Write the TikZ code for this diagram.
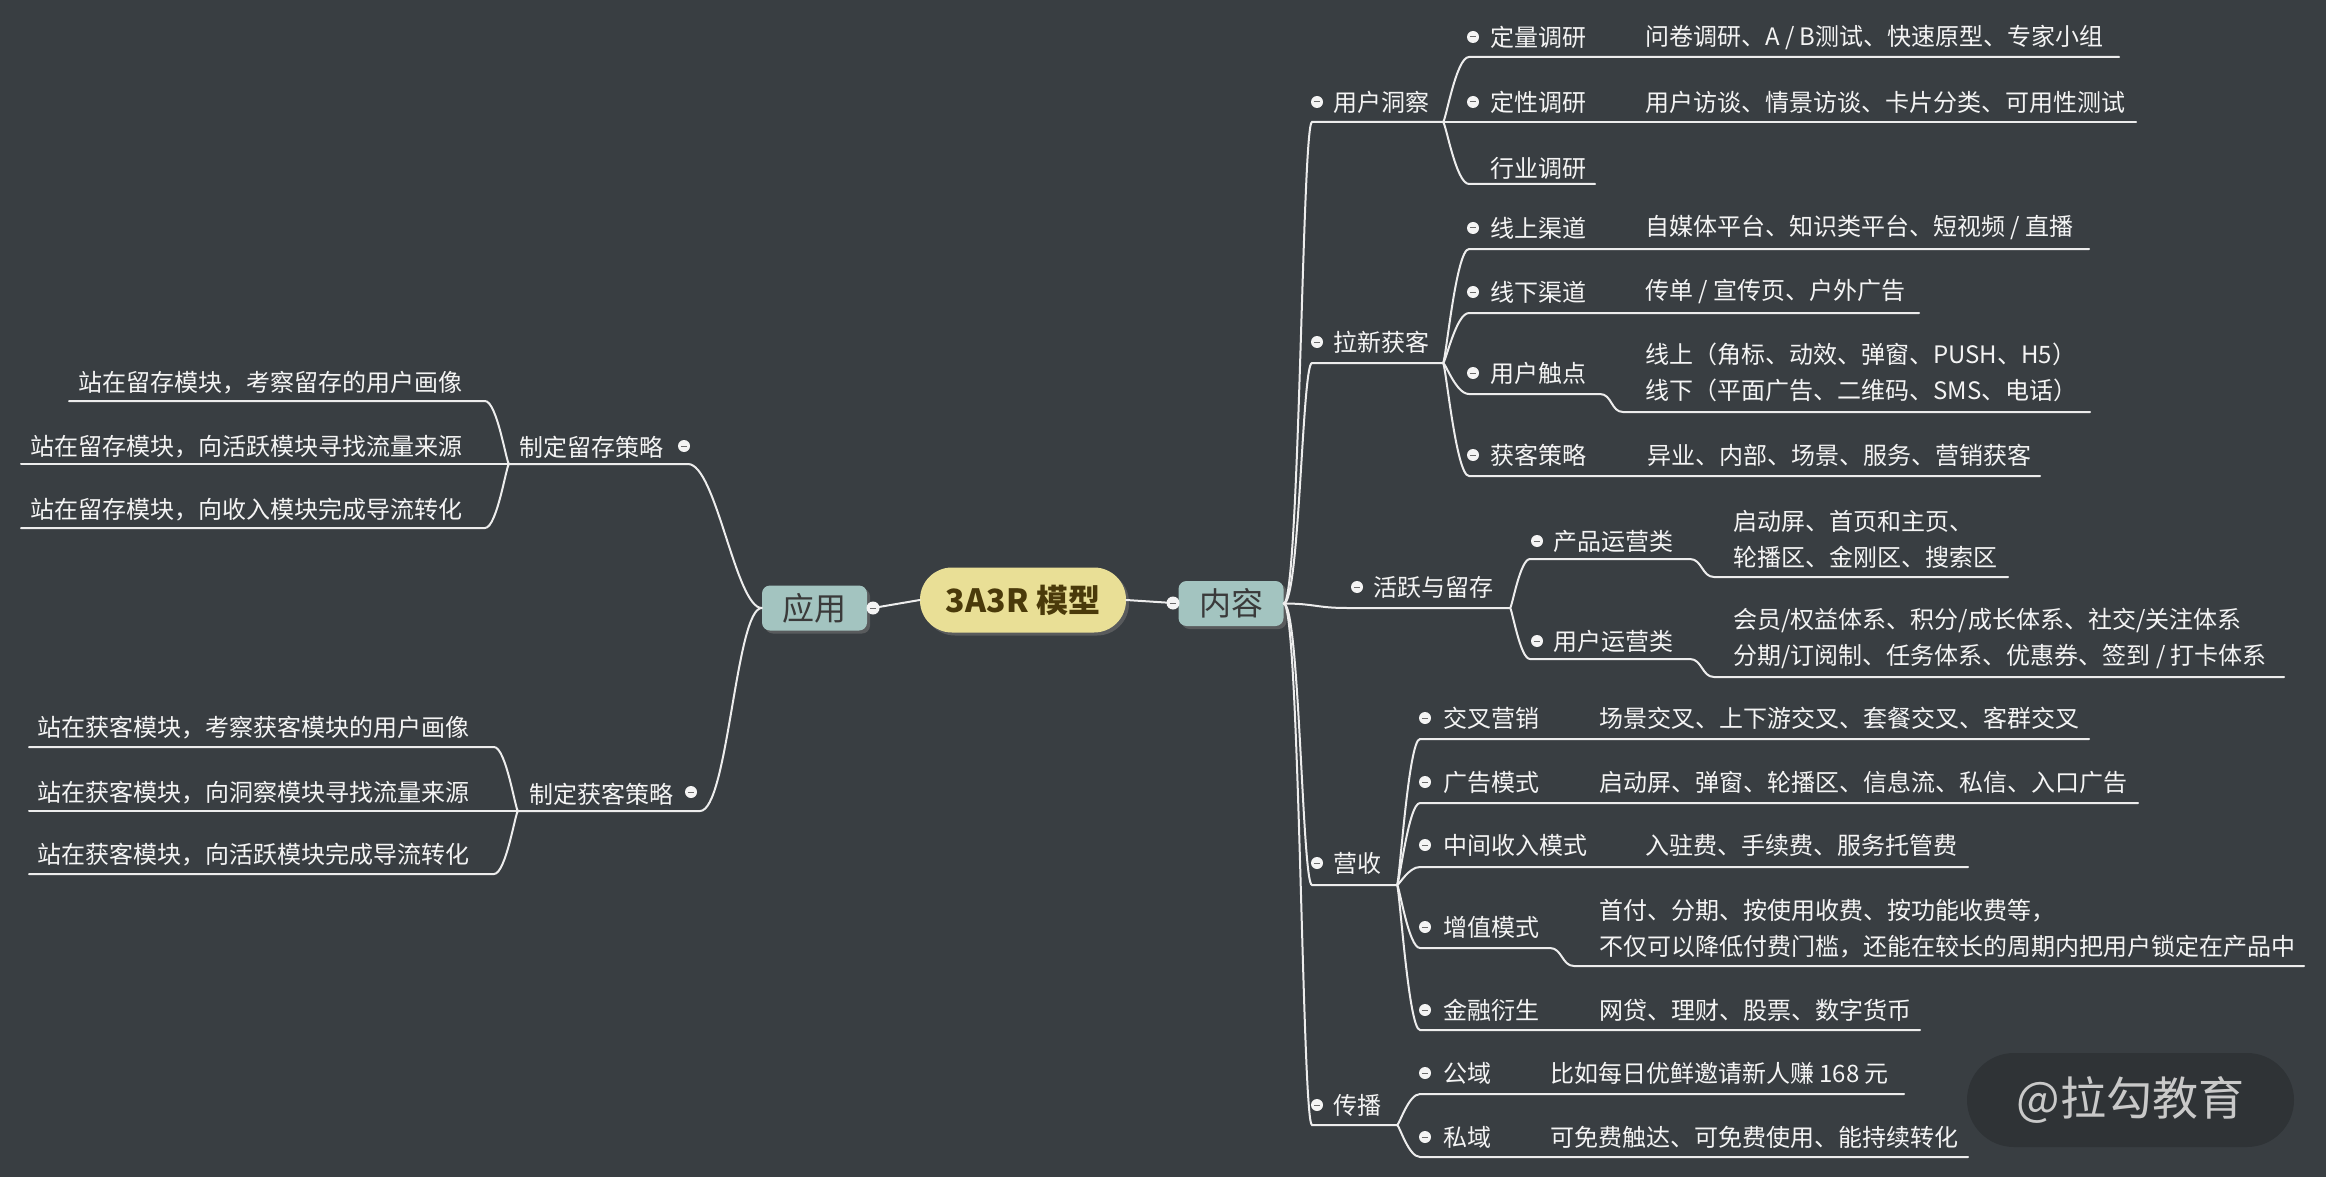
\documentclass[tikz,border=0pt]{standalone}
\usepackage{fontspec}
\setmainfont{Noto Sans CJK SC}
\usetikzlibrary{shadows}
\definecolor{bgc}{HTML}{393E42}
\definecolor{linec}{HTML}{EDEDED}
\definecolor{txtc}{HTML}{F4F4F4}
\definecolor{rootfill}{HTML}{E9DF96}
\definecolor{roottxt}{HTML}{4A3A0A}
\definecolor{boxfill}{HTML}{A3C4C0}
\definecolor{boxtxt}{HTML}{3A3A3A}
\definecolor{dotfill}{HTML}{F4F4F4}
\definecolor{dotminus}{HTML}{6A6A6A}
\definecolor{wmfill}{HTML}{2F3336}
\definecolor{wmtxt}{HTML}{C9C9C9}
\begin{document}
\begin{tikzpicture}[x=1pt,y=-1pt,
  lbl/.style={text=txtc, font=\fontsize{24}{36}\selectfont, inner sep=0pt, anchor=west, align=left},
  lblr/.style={lbl, anchor=east, align=right},
  ln/.style={draw=linec, line width=2pt, line cap=round},
  dotc/.style={circle, fill=dotfill, minimum size=12pt, inner sep=0pt,
    path picture={\draw[line width=1pt, draw=dotminus] ([xshift=-3.2pt]path picture bounding box.center) -- ([xshift=3.2pt]path picture bounding box.center);}},
  bigdot/.style={dotc, minimum size=13pt},
  rootbox/.style={fill=rootfill, text=roottxt, rounded corners=32pt, minimum width=206pt, minimum height=65pt, inner sep=0pt,
    font=\fontsize{32}{36}\selectfont\bfseries, drop shadow={shadow xshift=3pt, shadow yshift=-3pt, opacity=0.45}},
  mainbox/.style={fill=boxfill, text=boxtxt, rounded corners=8pt, minimum width=105pt, minimum height=45pt, inner sep=0pt,
    font=\fontsize{32}{36}\selectfont, drop shadow={shadow xshift=3pt, shadow yshift=-3pt, opacity=0.45}},
  wm/.style={fill=wmfill, rounded corners=47pt, minimum width=327pt, minimum height=94pt, inner sep=0pt, text=wmtxt,
    font=\fontsize{46}{50}\selectfont}
]
\useasboundingbox (0,0) rectangle (2326,1177);
\fill[bgc] (0,0) rectangle (2326,1177);

% ---------- centre ----------
\node[rootbox] (root) at (1023,600) {3A3R 模型};
\node[mainbox] (nr) at (1231,603.5) {内容};
\node[mainbox] (nl) at (814.5,608) {应用};
\coordinate (dRc) at (1173,603);
\coordinate (dLc) at (873,608);
\draw[ln] (root.east) -- (dRc);
\draw[ln] (root.west) -- (dLc);
\node[bigdot] (dR) at (dRc) {};
\node[bigdot] (dL) at (dLc) {};

% ---------- right: level 1 ----------
\coordinate (As) at (1312,122); \coordinate (Af) at (1443,122);
\coordinate (Bs) at (1312,363); \coordinate (Bf) at (1443,363);
\coordinate (Cs) at (1347,608); \coordinate (Cf) at (1510,608);
\coordinate (Ds) at (1312,885); \coordinate (Df) at (1397,885);
\coordinate (Es) at (1312,1125); \coordinate (Ef) at (1397,1125);
\draw[ln] (nr.east) .. controls +(16,0) and +(-10,0) .. (As) -- (Af);
\draw[ln] (nr.east) .. controls +(16,0) and +(-10,0) .. (Bs) -- (Bf);
\draw[ln] (nr.east) .. controls +(30,0) and +(-30,0) .. (Cs) -- (Cf);
\draw[ln] (nr.east) .. controls +(16,0) and +(-10,0) .. (Ds) -- (Df);
\draw[ln] (nr.east) .. controls +(16,0) and +(-10,0) .. (Es) -- (Ef);
\node[lbl] (A) at (1333,102) {用户洞察}; \node[dotc] (Ad) at (1317,102) {};
\node[lbl] (B) at (1333,342) {拉新获客}; \node[dotc] (Bd) at (1317,342) {};
\node[lbl] (C) at (1373,587) {活跃与留存}; \node[dotc] (Cd) at (1357,587) {};
\node[lbl] (D) at (1333,863) {营收}; \node[dotc] (Dd) at (1317,863) {};
\node[lbl] (E) at (1333,1105) {传播}; \node[dotc] (Ed) at (1317,1105) {};

% ---------- 用户洞察 ----------
\coordinate (A1s) at (1469,57); \coordinate (A1e) at (2119,57);
\coordinate (A2e) at (2136,122);
\coordinate (A3s) at (1469,184); \coordinate (A3e) at (1595,184);
\draw[ln] (Af) .. controls +(2.6,0) and +(-13,0) .. (A1s) -- (A1e);
\draw[ln] (Af) -- (A2e);
\draw[ln] (Af) .. controls +(2.6,0) and +(-13,0) .. (A3s) -- (A3e);
\node[lbl] (A1) at (1490,37) {定量调研}; \node[dotc] (A1d) at (1473,37) {};
\node[lbl] (A1x) at (1645,37) {问卷调研、A / B测试、快速原型、专家小组};
\node[lbl] (A2) at (1490,102) {定性调研}; \node[dotc] (A2d) at (1473,102) {};
\node[lbl] (A2x) at (1645,102) {用户访谈、情景访谈、卡片分类、可用性测试};
\node[lbl] (A3) at (1490,168) {行业调研};

% ---------- 拉新获客 ----------
\coordinate (B1s) at (1469,249); \coordinate (B1e) at (2089,249);
\coordinate (B2s) at (1469,313); \coordinate (B2e) at (1919,313);
\coordinate (B3s) at (1469,394); \coordinate (B3m) at (1600,394); \coordinate (B3n) at (1623,412); \coordinate (B3e) at (2090,412);
\coordinate (B4s) at (1469,476); \coordinate (B4e) at (2040,476);
\draw[ln] (Bf) .. controls +(2.6,0) and +(-13,0) .. (B1s) -- (B1e);
\draw[ln] (Bf) .. controls +(2.6,0) and +(-13,0) .. (B2s) -- (B2e);
\draw[ln] (Bf) .. controls +(2.6,0) and +(-13,0) .. (B3s) -- (B3m) .. controls +(12,0) and +(-12,0) .. (B3n) -- (B3e);
\draw[ln] (Bf) .. controls +(2.6,0) and +(-13,0) .. (B4s) -- (B4e);
\node[lbl] (B1) at (1490,228) {线上渠道}; \node[dotc] (B1d) at (1473,228) {};
\node[lbl] (B1x) at (1645,228) {自媒体平台、知识类平台、短视频 / 直播};
\node[lbl] (B2) at (1490,292) {线下渠道}; \node[dotc] (B2d) at (1473,292) {};
\node[lbl] (B2x) at (1645,292) {传单 / 宣传页、户外广告};
\node[lbl] (B3) at (1490,373) {用户触点}; \node[dotc] (B3d) at (1473,373) {};
\node[lbl] (B3x) at (1645,372.5) {线上（角标、动效、弹窗、PUSH、H5）\\线下（平面广告、二维码、SMS、电话）};
\node[lbl] (B4) at (1490,455) {获客策略}; \node[dotc] (B4d) at (1473,455) {};
\node[lbl] (B4x) at (1647,455) {异业、内部、场景、服务、营销获客};

% ---------- 活跃与留存 ----------
\coordinate (C1s) at (1530,559); \coordinate (C1m) at (1690,559); \coordinate (C1n) at (1714,577); \coordinate (C1e) at (2008,577);
\coordinate (C2s) at (1530,659); \coordinate (C2m) at (1690,659); \coordinate (C2n) at (1714,677); \coordinate (C2e) at (2284,677);
\draw[ln] (Cf) .. controls +(2,0) and +(-10,0) .. (C1s) -- (C1m) .. controls +(12,0) and +(-12,0) .. (C1n) -- (C1e);
\draw[ln] (Cf) .. controls +(2,0) and +(-10,0) .. (C2s) -- (C2m) .. controls +(12,0) and +(-12,0) .. (C2n) -- (C2e);
\node[lbl] (C1) at (1553,541) {产品运营类}; \node[dotc] (C1d) at (1537,541) {};
\node[lbl] (C1x) at (1733,539.5) {启动屏、首页和主页、\\轮播区、金刚区、搜索区};
\node[lbl] (C2) at (1553,641) {用户运营类}; \node[dotc] (C2d) at (1537,641) {};
\node[lbl] (C2x) at (1733,638.5) {会员/权益体系、积分/成长体系、社交/关注体系\\分期/订阅制、任务体系、优惠券、签到 / 打卡体系};

% ---------- 营收 ----------
\coordinate (D1s) at (1420,739); \coordinate (D1e) at (2089,739);
\coordinate (D2s) at (1420,803); \coordinate (D2e) at (2138,803);
\coordinate (D3s) at (1420,867); \coordinate (D3e) at (1968,867);
\coordinate (D4s) at (1420,948); \coordinate (D4m) at (1550,948); \coordinate (D4n) at (1574,966); \coordinate (D4e) at (2304,966);
\coordinate (D5s) at (1420,1030); \coordinate (D5e) at (1920,1030);
\draw[ln] (Df) .. controls +(2.3,0) and +(-11.5,0) .. (D1s) -- (D1e);
\draw[ln] (Df) .. controls +(2.3,0) and +(-11.5,0) .. (D2s) -- (D2e);
\draw[ln] (Df) .. controls +(2.3,0) and +(-11.5,0) .. (D3s) -- (D3e);
\draw[ln] (Df) .. controls +(2.3,0) and +(-11.5,0) .. (D4s) -- (D4m) .. controls +(12,0) and +(-12,0) .. (D4n) -- (D4e);
\draw[ln] (Df) .. controls +(2.3,0) and +(-11.5,0) .. (D5s) -- (D5e);
\node[lbl] (D1) at (1443,718) {交叉营销}; \node[dotc] (D1d) at (1425,718) {};
\node[lbl] (D1x) at (1599,718) {场景交叉、上下游交叉、套餐交叉、客群交叉};
\node[lbl] (D2) at (1443,782) {广告模式}; \node[dotc] (D2d) at (1425,782) {};
\node[lbl] (D2x) at (1599,782) {启动屏、弹窗、轮播区、信息流、私信、入口广告};
\node[lbl] (D3) at (1443,845) {中间收入模式}; \node[dotc] (D3d) at (1425,845) {};
\node[lbl] (D3x) at (1645,845) {入驻费、手续费、服务托管费};
\node[lbl] (D4) at (1443,927) {增值模式}; \node[dotc] (D4d) at (1425,927) {};
\node[lbl] (D4x) at (1599,928.5) {首付、分期、按使用收费、按功能收费等，\\不仅可以降低付费门槛，还能在较长的周期内把用户锁定在产品中};
\node[lbl] (D5) at (1443,1010) {金融衍生}; \node[dotc] (D5d) at (1425,1010) {};
\node[lbl] (D5x) at (1599,1010) {网贷、理财、股票、数字货币};

% ---------- 传播 ----------
\coordinate (E1s) at (1420,1094); \coordinate (E1e) at (1904,1094);
\coordinate (E2s) at (1420,1157); \coordinate (E2e) at (1968,1157);
\draw[ln] (Ef) .. controls +(2.3,0) and +(-11.5,0) .. (E1s) -- (E1e);
\draw[ln] (Ef) .. controls +(2.3,0) and +(-11.5,0) .. (E2s) -- (E2e);
\node[lbl] (E1) at (1443,1073) {公域}; \node[dotc] (E1d) at (1425,1073) {};
\node[lbl] (E1x) at (1550,1073) {比如每日优鲜邀请新人赚 168 元};
\node[lbl] (E2) at (1443,1137) {私域}; \node[dotc] (E2d) at (1425,1137) {};
\node[lbl] (E2x) at (1550,1137) {可免费触达、可免费使用、能持续转化};

% ---------- left ----------
\coordinate (L1f) at (509,464); \coordinate (L1e) at (688,464);
\coordinate (L2f) at (518,811); \coordinate (L2e) at (700,811);
\draw[ln] (nl.west) .. controls +(-26,0) and +(28,0) .. (L1e) -- (L1f);
\draw[ln] (nl.west) .. controls +(-26,0) and +(28,0) .. (L2e) -- (L2f);
\node[lblr] (L1) at (664,447) {制定留存策略}; \node[dotc] (L1d) at (684,446) {};
\node[lblr] (L2) at (674,794) {制定获客策略}; \node[dotc] (L2d) at (691,792) {};

\coordinate (L1as) at (485,401); \coordinate (L1ae) at (69,401);
\coordinate (L1be) at (21,464);
\coordinate (L1cs) at (485,528); \coordinate (L1ce) at (21,528);
\draw[ln] (L1f) .. controls +(-2.4,0) and +(12,0) .. (L1as) -- (L1ae);
\draw[ln] (L1f) -- (L1be);
\draw[ln] (L1f) .. controls +(-2.4,0) and +(12,0) .. (L1cs) -- (L1ce);
\node[lblr] (L1a) at (463,383) {站在留存模块，考察留存的用户画像};
\node[lblr] (L1b) at (463,447) {站在留存模块，向活跃模块寻找流量来源};
\node[lblr] (L1c) at (463,510) {站在留存模块，向收入模块完成导流转化};

\coordinate (L2as) at (494,747); \coordinate (L2ae) at (29,747);
\coordinate (L2be) at (29,811);
\coordinate (L2cs) at (494,874); \coordinate (L2ce) at (29,874);
\draw[ln] (L2f) .. controls +(-2.4,0) and +(12,0) .. (L2as) -- (L2ae);
\draw[ln] (L2f) -- (L2be);
\draw[ln] (L2f) .. controls +(-2.4,0) and +(12,0) .. (L2cs) -- (L2ce);
\node[lblr] (L2a) at (470,728) {站在获客模块，考察获客模块的用户画像};
\node[lblr] (L2b) at (470,793) {站在获客模块，向洞察模块寻找流量来源};
\node[lblr] (L2c) at (470,855) {站在获客模块，向活跃模块完成导流转化};

% ---------- watermark ----------
\node[wm] (wmk) at (2130.5,1100) {@拉勾教育};
\end{tikzpicture}
\end{document}
